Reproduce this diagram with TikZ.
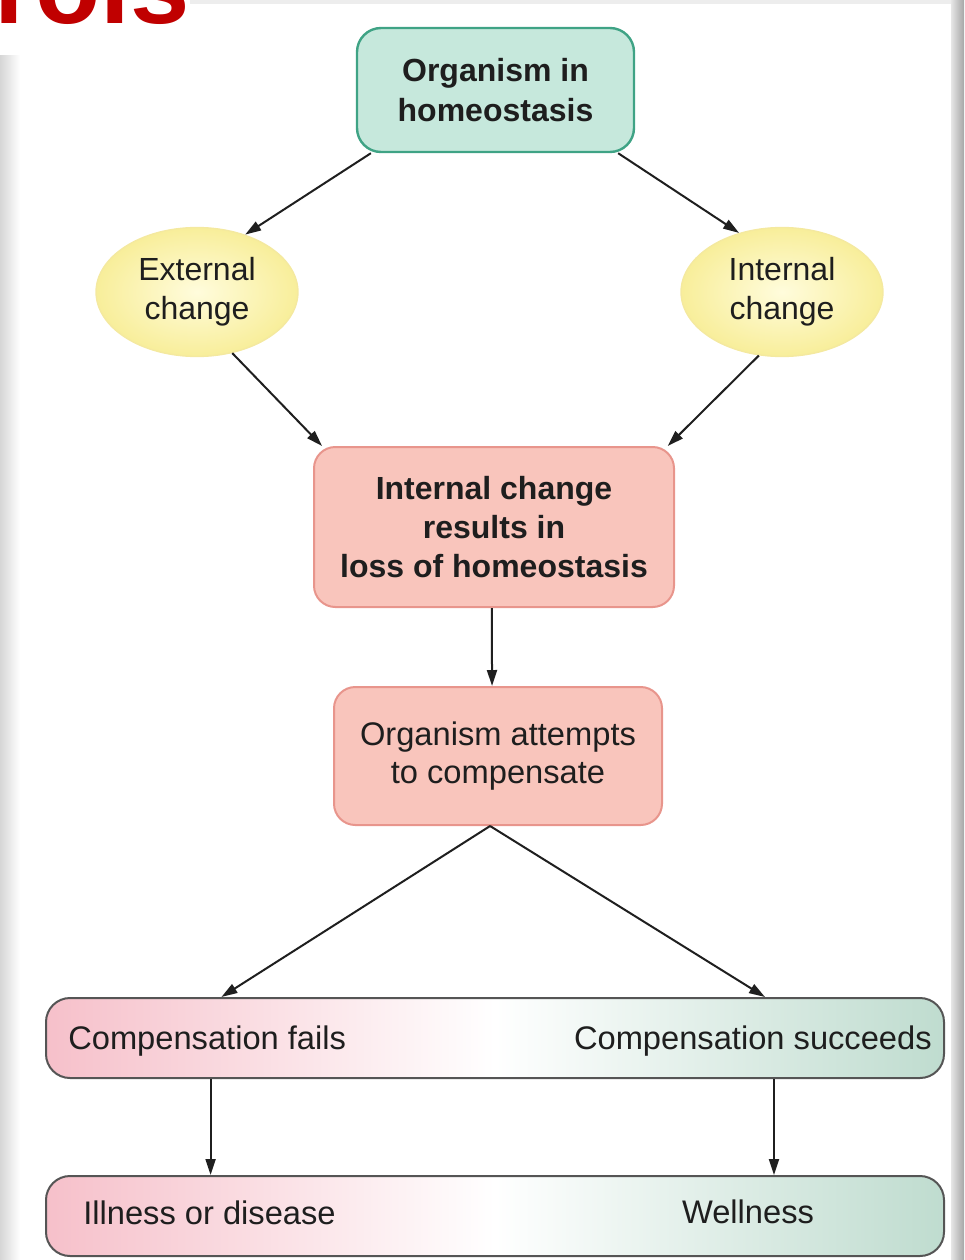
\documentclass[tikz,border=0pt]{standalone}
\usepackage{fontspec}
\setmainfont{Liberation Sans}
\usetikzlibrary{arrows.meta,shapes.geometric,calc}
\definecolor{mintfill}{HTML}{C6E8DC}
\definecolor{mintdraw}{HTML}{3FA385}
\definecolor{pinkfill}{HTML}{F9C5BC}
\definecolor{pinkdraw}{HTML}{E8958C}
\definecolor{yelin}{HTML}{FFFCDC}
\definecolor{yelout}{HTML}{F8EE9A}
\definecolor{yeldraw}{HTML}{F4E9A0}
\definecolor{barpink}{HTML}{F6C0CA}
\definecolor{barmint}{HTML}{BFDCCF}
\definecolor{bardraw}{HTML}{555555}
\definecolor{txt}{HTML}{1E1E1E}
\definecolor{titlered}{HTML}{C00000}
\definecolor{edgegrey}{HTML}{D6D6D6}
\begin{document}
\begin{tikzpicture}[x=0.75pt,y=-0.75pt,
  topbox/.style={draw=mintdraw, line width=1.8pt, fill=mintfill, rounded corners=18pt,
    minimum width=207.75pt, minimum height=93pt, align=center, text=txt,
    font=\fontsize{24}{30}\selectfont\bfseries},
  oval/.style={ellipse, draw=yeldraw, line width=1pt, inner color=yelin, outer color=yelout,
    minimum width=151.5pt, minimum height=96.75pt, align=center, text=txt, inner sep=0pt,
    font=\fontsize{24}{29}\selectfont},
  pinkbox/.style={draw=pinkdraw, line width=1.5pt, fill=pinkfill, rounded corners=16pt,
    align=center, text=txt},
  bar/.style={draw=bardraw, line width=1.5pt, rounded corners=18pt, left color=barpink,
    right color=barmint, middle color=white, minimum width=673.5pt, minimum height=60pt, inner sep=0pt},
  bartext/.style={inner sep=0pt, text=txt, font=\fontsize{24.5}{29}\selectfont},
  arr/.style={draw=black!88, line width=1.5pt, -{Triangle[length=12pt,width=7.5pt]}}
]
\useasboundingbox (0,0) rectangle (964,1260);
\begin{scope}
\clip (0,0) rectangle (964,1260);
% slide edges
\shade[left color=edgegrey, right color=white] (0,55) rectangle (20,1260);
\shade[left color=white!90!black, right color=black!35] (951,0) rectangle (964,1260);
\fill[black!7] (190,0) rectangle (951,4);
% cut-off title
\node[font=\fontsize{80}{80}\selectfont\bfseries, text=titlered, anchor=base east, inner sep=0pt]
  (title) at (190,23) {rols};

% nodes
\node[topbox] (top) at (495.5,90) {Organism in\\homeostasis};
\node[oval] (ext) at (197,292) {External\\change};
\node[oval] (int) at (782,292) {Internal\\change};
\node[pinkbox, minimum width=270pt, minimum height=120pt,
  font=\fontsize{24}{29}\selectfont\bfseries] (loss) at (494,527)
  {Internal change\\results in\\loss of homeostasis};
\node[pinkbox, minimum width=246pt, minimum height=103.5pt,
  font=\fontsize{24.5}{29}\selectfont] (comp) at (498,756)
  {Organism attempts\\to compensate};
\node[bar] (bar1) at (495,1038) {};
\node[bar] (bar2) at (495,1216) {};
\node[bartext, anchor=base west] (fails) at (68,1049) {Compensation fails};
\node[bartext, anchor=base east] (succ) at (932,1049) {Compensation succeeds};
\node[bartext, anchor=base west] (ill) at (83,1224) {Illness or disease};
\node[bartext, anchor=base] (well) at (748,1223) {Wellness};

% connectors
\draw[arr] ($(top.south west)!0.054!(top.south east)$) -- (ext.50);
\draw[arr] ($(top.south west)!0.939!(top.south east)$) -- (int.126);
\draw[arr] (ext.-60) -- ($(loss.north west)!0.025!(loss.north east)$);
\draw[arr] (int.-110) -- ($(loss.north west)!0.98!(loss.north east)$);
\draw[arr] ($(loss.south west)!0.494!(loss.south east)$) -- ($(comp.north west)!0.482!(comp.north east)$);
\draw[arr] ($(comp.south west)!0.476!(comp.south east)$) -- ($(bar1.north west)!0.196!(bar1.north east)$);
\draw[arr] ($(comp.south west)!0.476!(comp.south east)$) -- ($(bar1.north west)!0.80!(bar1.north east)$);
\draw[arr] ($(bar1.south west)!0.184!(bar1.south east)$) -- ($(bar2.north west)!0.184!(bar2.north east)$);
\draw[arr] ($(bar1.south west)!0.81!(bar1.south east)$) -- ($(bar2.north west)!0.81!(bar2.north east)$);
\end{scope}
\end{tikzpicture}
\end{document}
